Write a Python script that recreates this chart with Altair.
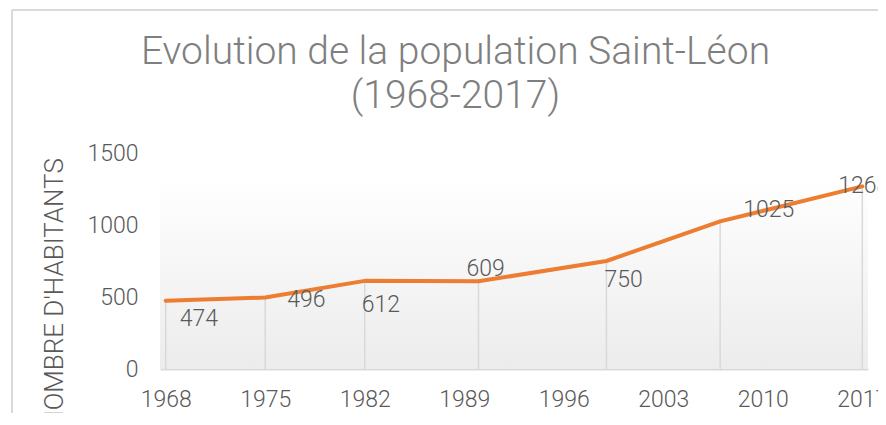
import altair as alt
import pandas as pd

# ---- data ----
years = [1968, 1975, 1982, 1990, 1999, 2007, 2017]
population = [474, 496, 612, 609, 750, 1025, 1268]
x_ticks = [1968, 1975, 1982, 1989, 1996, 2003, 2010, 2017]
y_ticks = [0, 500, 1000, 1500]

title_lines = ["Evolution de la population Saint-Léon", "(1968-2017)"]
y_title = "NOMBRE D'HABITANTS"

df = pd.DataFrame({"annee": years, "habitants": population})
df["zero"] = 0

# ---- styling ----
W, H = 708, 216
ORANGE = "#ED7D31"
GRID = "#d9d9d9"
TXT = "#595959"
FONT = "Roboto"
LIGHT = 300

# label offsets (dx, dy) per year, mimicking Excel's automatic placement
label_offsets = {
    1968: (14, 18),
    1975: (22, 2),
    1982: (-3, 24),
    1990: (-12, -12),
    1999: (-2, 19),
    2007: (23, -11),
    2017: (-24, 0),
}

x_scale = alt.Scale(domain=[1967.6, 2017.4], nice=False, zero=False)
y_scale = alt.Scale(domain=[0, 1500], nice=False)

x_enc = alt.X(
    "annee:Q",
    scale=x_scale,
    axis=alt.Axis(
        values=x_ticks, format="d", title=None, grid=False, ticks=False,
        domainColor=GRID, domainWidth=2, labelFont=FONT, labelFontSize=23,
        labelFontWeight=LIGHT,
        labelColor=TXT, labelPadding=19, labelFlush=False, labelOverlap=False,
    ),
)
y_enc = alt.Y(
    "habitants:Q",
    scale=y_scale,
    axis=alt.Axis(
        values=y_ticks, format="d", title=y_title, grid=False, ticks=False,
        domain=False, labelFont=FONT, labelFontSize=23, labelFontWeight=LIGHT,
        labelColor=TXT, labelPadding=22,
        titleFont=FONT, titleFontSize=26, titleFontWeight=LIGHT,
        titleColor=TXT, titleAngle=270, titleX=-105.5, titleY=140,
        titleAlign="center", titleBaseline="middle",
    ),
)

gradient = alt.Chart(df).mark_rect(
    fill=alt.Gradient(
        gradient="linear", x1=0, y1=0, x2=0, y2=1,
        stops=[alt.GradientStop(color="#ffffff", offset=0),
               alt.GradientStop(color="#ececec", offset=1)],
    )
).encode(x=alt.value(0), x2=alt.value(W), y=alt.value(25), y2=alt.value(H))

frame_top = alt.Chart(df).mark_rule(color=GRID, strokeWidth=2).encode(
    x=alt.value(-148), x2=alt.value(718), y=alt.value(-143)
)
frame_left = alt.Chart(df).mark_rule(color=GRID, strokeWidth=2).encode(
    x=alt.value(-148), y=alt.value(-143), y2=alt.value(260)
)

drops = alt.Chart(df).mark_rule(color=GRID, strokeWidth=1.5).encode(
    x=alt.X("annee:Q", scale=x_scale),
    y=alt.Y("zero:Q", scale=y_scale),
    y2="habitants:Q",
)

line = alt.Chart(df).mark_line(
    color=ORANGE, strokeWidth=4, strokeJoin="round", strokeCap="round"
).encode(x=x_enc, y=y_enc)

labels = []
for yr, (dx, dy) in label_offsets.items():
    labels.append(
        alt.Chart(df)
        .transform_filter(alt.datum.annee == yr)
        .mark_text(align="left", baseline="middle", dx=dx, dy=dy,
                   font=FONT, fontSize=23, fontWeight=LIGHT, color=TXT)
        .encode(x=alt.X("annee:Q", scale=x_scale),
                y=alt.Y("habitants:Q", scale=y_scale),
                text="habitants:Q")
    )

chart = alt.layer(gradient, frame_top, frame_left, drops, line, *labels).properties(
    width=W,
    height=H,
    padding={"left": 152, "top": 145, "right": 10, "bottom": 44},
    autosize=alt.AutoSizeParams(type="none"),
    background="white",
    title=alt.TitleParams(
        text=title_lines, anchor="middle", frame="group", dx=-58.5,
        baseline="top", dy=107,
        font=FONT, fontSize=39, fontWeight=LIGHT, color="#7f7f7f",
        lineHeight=44, offset=0,
    ),
).configure_view(stroke=None)

chart.save("out.html", embed_options={"renderer": "svg", "actions": False})
